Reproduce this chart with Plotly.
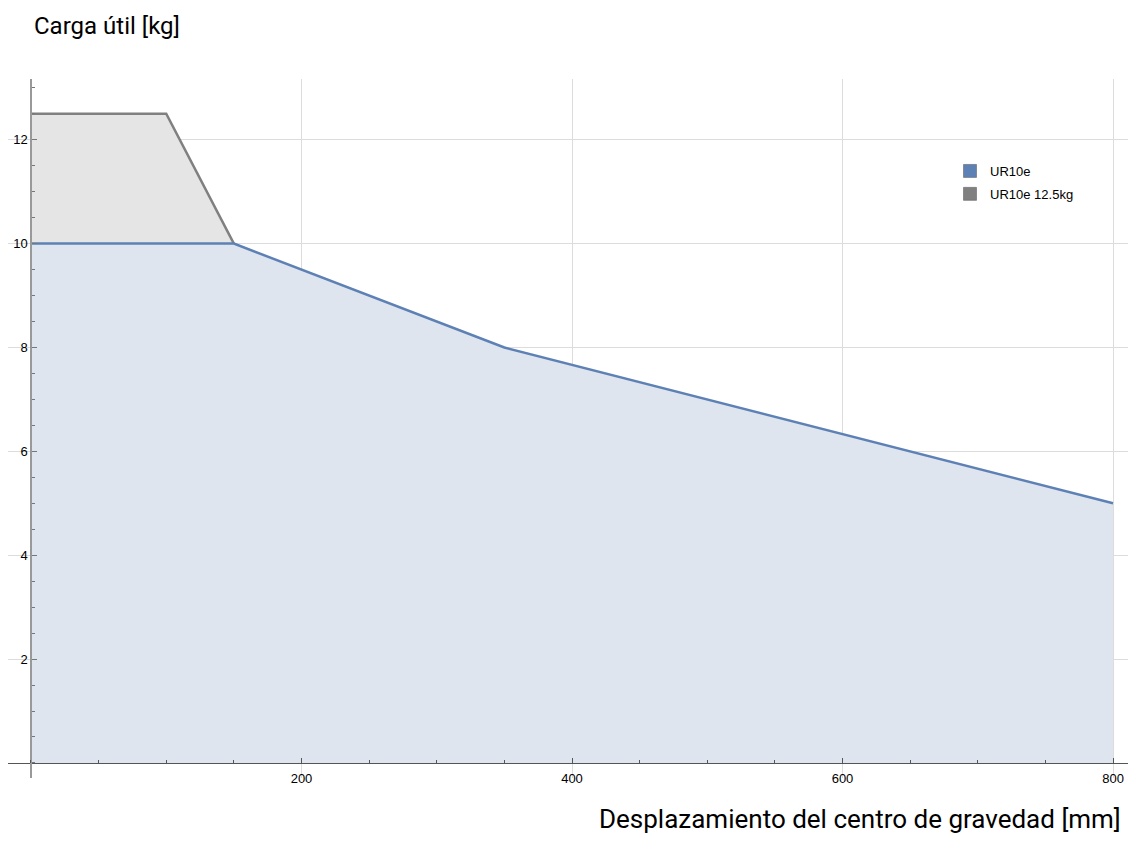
import plotly.graph_objects as go

# Data
ur10e_x = [0, 150, 350, 800]
ur10e_y = [10, 10, 8, 5]
ur10e_125_x = [0, 100, 150]
ur10e_125_y = [12.5, 12.5, 10]
series_names = ["UR10e", "UR10e 12.5kg"]
x_ticks = [200, 400, 600, 800]
y_ticks = [2, 4, 6, 8, 10, 12]

blue = "#5E81B5"
blue_fill = "#DFE5EF"
gray = "#808080"
gray_fill = "#E5E5E5"

xmin, xmax = -17, 817
ymin, ymax = -0.29, 13.17

W, H = 1128, 855
ML, MR, MT, MB = 0, 0, 71, 85
PW, PH = W - ML - MR, H - MT - MB


def px(xp):
    return (xp - ML) / PW


def py(yp):
    return 1 - (yp - MT) / PH


fig = go.Figure()
fig.add_trace(go.Scatter(x=ur10e_125_x, y=ur10e_125_y, mode="lines", fill="tozeroy",
                         fillcolor=gray_fill, line=dict(color=gray, width=2.5),
                         showlegend=False, hoverinfo="skip"))
fig.add_trace(go.Scatter(x=ur10e_x, y=ur10e_y, mode="lines", fill="tozeroy",
                         fillcolor=blue_fill, line=dict(color=blue, width=2.5),
                         showlegend=False, hoverinfo="skip"))
# legend swatches
for i, (name, col) in enumerate(zip(series_names, [blue, gray])):
    fig.add_trace(go.Scatter(x=[None], y=[None], mode="markers", name=name,
                             legendgroup="g%d" % i,
                             marker=dict(symbol="square", size=13, color=col,
                                         line=dict(color="#555", width=0.5))))

font_fam = "Liberation Sans, Arial, sans-serif"
fig.update_layout(
    width=W, height=H,
    margin=dict(l=ML, r=MR, t=MT, b=MB),
    paper_bgcolor="white", plot_bgcolor="white",
    font=dict(family=font_fam, size=13, color="black"),
    xaxis=dict(range=[xmin, xmax], anchor="free", position=(0 - ymin) / (ymax - ymin),
               tickvals=x_ticks, ticks="inside", ticklen=5, tickcolor="#555",
               showline=True, linecolor="#555", linewidth=1,
               showgrid=True, gridcolor="#DCDCDC", gridwidth=1, zeroline=False,
               ticklabelstandoff=3,
               minor=dict(dtick=50, tick0=0, ticks="inside", ticklen=3, tickcolor="#555", showgrid=False),
               tickfont=dict(size=13, family=font_fam, color="black")),
    yaxis=dict(range=[ymin, ymax], anchor="free", position=(0 - xmin) / (xmax - xmin),
               tickvals=y_ticks, ticks="inside", ticklen=5, tickcolor="#777",
               showline=True, linecolor="#999", linewidth=1.5,
               showgrid=True, gridcolor="#DCDCDC", gridwidth=1, zeroline=False,
               minor=dict(dtick=0.5, tick0=0, ticks="inside", ticklen=3, tickcolor="#777", showgrid=False),
               tickfont=dict(size=13, family=font_fam, color="black")),
    legend=dict(x=px(942), y=py(148), xanchor="left", yanchor="top", bgcolor="rgba(0,0,0,0)",
                font=dict(size=13, family=font_fam), itemwidth=30, tracegroupgap=3),
    annotations=[
        dict(text="Carga útil [kg]", xref="paper", yref="paper", x=px(24),
             y=py(18), xanchor="left", yanchor="middle", showarrow=False,
             font=dict(size=24, family="Roboto, sans-serif", color="black")),
        dict(text="Desplazamiento del centro de gravedad [mm]", xref="paper", yref="paper",
             x=px(1115), y=py(811), xanchor="right", yanchor="middle",
             showarrow=False, font=dict(size=26, family="Roboto, sans-serif", color="black")),
    ],
)

fig.write_html("out.html")
